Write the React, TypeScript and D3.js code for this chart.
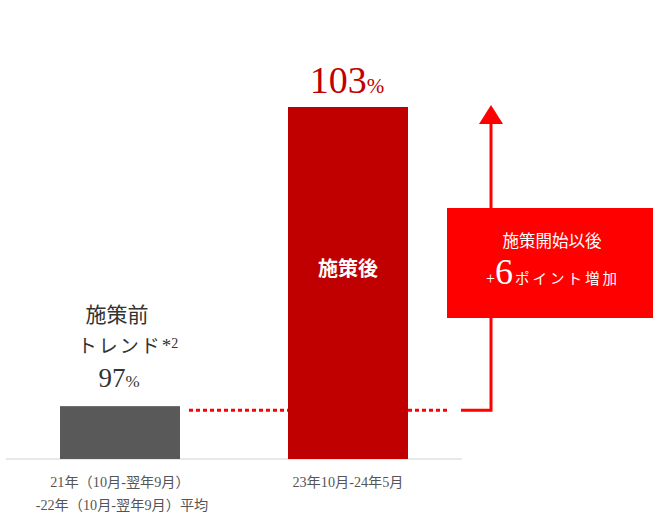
import React from "react";
import * as d3 from "d3";

const categories = ["21年（10月-翌年9月）\n-22年（10月-翌年9月）平均", "23年10月-24年5月"];
const values = [97, 103];
const barColors = ["#595959", "#c00000"];
const increase = 6;

const W = 653;
const H = 515;
const SERIF = "'Liberation Serif', 'Noto Sans CJK JP', serif";

export default function App() {
  const x = d3.scaleBand<string>().domain(categories).range([6, 462]).paddingInner(0.4737).paddingOuter(0.2368);
  const y = d3.scaleLinear().domain([95.94, 103]).range([459, 107]);
  const base = y(95.94);
  const refY = y(values[0]) + 4;
  const bw = x.bandwidth();
  const x0 = x(categories[0])!;
  const x1 = x(categories[1])!;
  const arrowX = 491;
  const arrowTop = y(values[1]) - 2;

  return (
    <svg width={W} height={H} style={{ position: "absolute", left: 0, top: 0 }} fontFamily={SERIF}>
      <rect width={W} height={H} fill="#fff" />
      {/* baseline */}
      <line x1={6} x2={462} y1={base} y2={base} stroke="#e0e0e0" strokeWidth={1.5} />
      {/* dotted reference */}
      <line x1={x0 + bw + 9} x2={x1} y1={refY} y2={refY} stroke="#ff0000" strokeWidth={3} strokeDasharray="4 3" />
      <line x1={x1 + bw} x2={448} y1={refY} y2={refY} stroke="#ff0000" strokeWidth={3} strokeDasharray="4 3" />
      {/* bars */}
      {categories.map((c, i) => (
        <rect key={i} x={x(c)} y={y(values[i])} width={bw} height={base - y(values[i])} fill={barColors[i]} />
      ))}
      {/* arrow */}
      <path d={`M461,${refY} H${arrowX} V${arrowTop + 19}`} fill="none" stroke="#ff0000" strokeWidth={3} />
      <path d={`M${arrowX - 12},${arrowTop + 19} L${arrowX},${arrowTop} L${arrowX + 12},${arrowTop + 19} Z`} fill="#ff0000" />
      {/* annotation box */}
      <rect x={447} y={208} width={W - 447} height={110} fill="#ff0000" />
      <text x={552} y={247} textAnchor="middle" fill="#fff" fontSize={16.5}>施策開始以後</text>
      <text x={553} y={284} textAnchor="middle" fill="#fff">
        <tspan fontSize={16} fontFamily="'Liberation Serif'">+</tspan>
        <tspan fontSize={36} fontFamily="'Liberation Serif'">{increase}</tspan>
        <tspan fontSize={14.5} dx={2} letterSpacing={3}>ポイント増加</tspan>
      </text>
      {/* bar labels */}
      <text x={x0 + bw / 2 - 3} y={322} textAnchor="middle" fill="#333" fontSize={21}>施策前</text>
      <text x={x0 + bw / 2 + 8} y={353} textAnchor="middle" fill="#333" fontSize={19}>
        <tspan letterSpacing={2}>トレンド</tspan>
        <tspan fontSize={19} fontFamily="'Liberation Serif'" dy={-1}>*</tspan>
        <tspan fontSize={14} dy={-4} fontFamily="'Liberation Serif'">2</tspan>
      </text>
      <text x={x0 + bw / 2 - 1} y={387} textAnchor="middle" fill="#333">
        <tspan fontSize={27}>{values[0]}</tspan>
        <tspan fontSize={17}>%</tspan>
      </text>
      <text x={x1 + bw / 2 - 1} y={93} textAnchor="middle" fill="#c00000">
        <tspan fontSize={38}>{values[1]}</tspan>
        <tspan fontSize={21}>%</tspan>
      </text>
      <text x={x1 + bw / 2} y={276} textAnchor="middle" fill="#fff" fontSize={20} fontWeight="bold">施策後</text>
      {/* category labels */}
      {categories.map((c, i) =>
        c.split("\n").map((line, j) => (
          <text key={`${i}-${j}`} x={x(c)! + bw / 2 + (j === 1 ? 2 : 0)} y={487 + j * 23} textAnchor="middle" fill="#555" fontSize={14.2}>
            {line}
          </text>
        ))
      )}
    </svg>
  );
}
